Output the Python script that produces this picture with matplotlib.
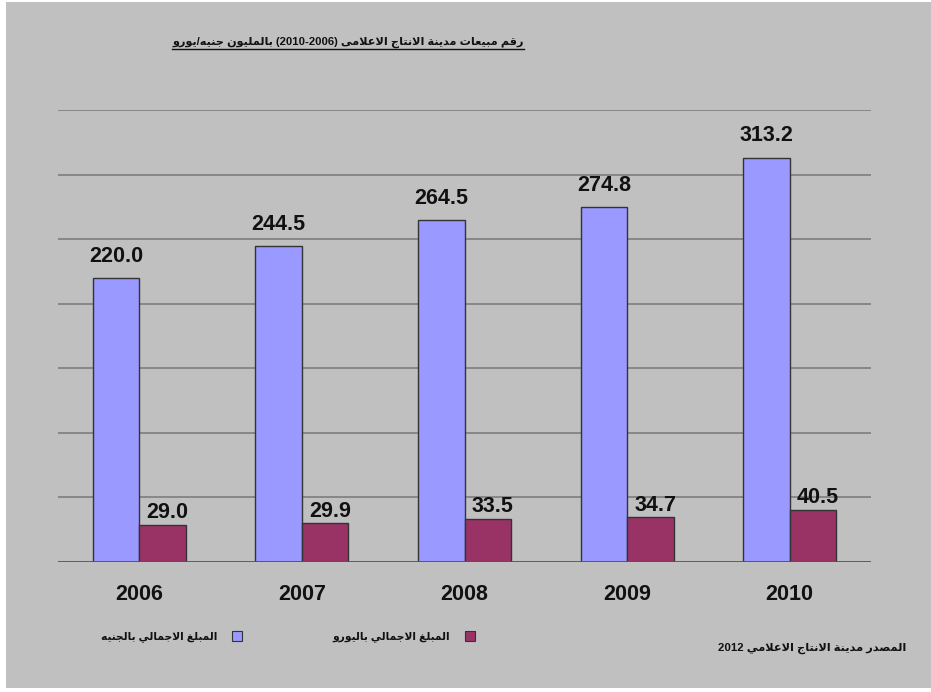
import re
import numpy as np
import matplotlib
matplotlib.use("Agg")
import matplotlib.pyplot as plt
from matplotlib.patches import Rectangle
from matplotlib.lines import Line2D

# chart data
years = ["2006", "2007", "2008", "2009", "2010"]
egp_values = [220.0, 244.5, 264.5, 274.8, 313.2]
eur_values = [29.0, 29.9, 33.5, 34.7, 40.5]

title_text = "رقم مبيعات مدينة الانتاج الاعلامى (2010-2006) بالمليون جنيه/يورو"
egp_label = "المبلغ الاجمالي بالجنيه"
eur_label = "المبلغ الاجمالي باليورو"
source_text = "المصدر مدينة الانتاج الاعلامي 2012"

BLUE = "#9999FF"
MAROON = "#993366"
BG = "#C0C0C0"

# Arabic shaping (presentation forms B): isolated, final, initial, medial
FORMS = {
    "ا": (0xFE8D, 0xFE8E), "ب": (0xFE8F, 0xFE90, 0xFE91, 0xFE92),
    "ة": (0xFE93, 0xFE94), "ت": (0xFE95, 0xFE96, 0xFE97, 0xFE98),
    "ج": (0xFE9D, 0xFE9E, 0xFE9F, 0xFEA0), "د": (0xFEA9, 0xFEAA),
    "ر": (0xFEAD, 0xFEAE), "ص": (0xFEB9, 0xFEBA, 0xFEBB, 0xFEBC),
    "ع": (0xFEC9, 0xFECA, 0xFECB, 0xFECC), "غ": (0xFECD, 0xFECE, 0xFECF, 0xFED0),
    "ق": (0xFED5, 0xFED6, 0xFED7, 0xFED8), "ل": (0xFEDD, 0xFEDE, 0xFEDF, 0xFEE0),
    "م": (0xFEE1, 0xFEE2, 0xFEE3, 0xFEE4), "ن": (0xFEE5, 0xFEE6, 0xFEE7, 0xFEE8),
    "ه": (0xFEE9, 0xFEEA, 0xFEEB, 0xFEEC), "و": (0xFEED, 0xFEEE),
    "ى": (0xFEEF, 0xFEF0), "ي": (0xFEF1, 0xFEF2, 0xFEF3, 0xFEF4),
}
MIRROR = {"(": ")", ")": "("}


def shape(s):
    out = []
    i = 0
    while i < len(s):
        c = s[i]
        if c not in FORMS:
            out.append(c)
            i += 1
            continue
        prev = s[i - 1] if i > 0 else ""
        prev_join = prev in FORMS and len(FORMS[prev]) == 4
        if c == "ل" and i + 1 < len(s) and s[i + 1] == "ا":
            out.append(chr(0xFEFC if prev_join else 0xFEFB))
            i += 2
            continue
        nxt = s[i + 1] if i + 1 < len(s) else ""
        next_join = nxt in FORMS and len(FORMS[c]) == 4
        f = FORMS[c]
        if prev_join and next_join:
            out.append(chr(f[3]))
        elif prev_join:
            out.append(chr(f[1]))
        elif next_join:
            out.append(chr(f[2]))
        else:
            out.append(chr(f[0]))
        i += 1
    return "".join(out)


def rtl(s):
    s = shape(s)
    parts = re.split(r"([0-9]+(?:[.\-][0-9]+)*)", s)
    vis = []
    for p in reversed(parts):
        if re.fullmatch(r"[0-9]+(?:[.\-][0-9]+)*", p):
            vis.append(p)
        else:
            vis.append("".join(MIRROR.get(ch, ch) for ch in reversed(p)))
    return "".join(vis)


FONT = ["Liberation Sans", "DejaVu Sans"]
plt.rcParams["font.family"] = FONT

fig = plt.figure(figsize=(9.31, 6.92), dpi=100)
fig.patch.set_facecolor("white")
fig.patches.append(Rectangle((6 / 931, 4 / 692), 1 - 6 / 931, 1 - 6 / 692,
                             transform=fig.transFigure, facecolor=BG,
                             edgecolor="none", zorder=-5))

ax = fig.add_axes([58 / 931, (692 - 562) / 692, 813 / 931, 452 / 692])
ax.set_facecolor("none")
x = np.arange(len(years))
w = 0.286
b1 = ax.bar(x - w / 2, egp_values, w, color=BLUE, edgecolor="#333333", linewidth=1, zorder=3)
b2 = ax.bar(x + w / 2, eur_values, w, color=MAROON, edgecolor="#333333", linewidth=1, zorder=3)

ax.set_xlim(-0.5, len(years) - 0.5)
ax.set_ylim(0, 350)
ax.set_yticks(np.arange(50, 351, 50))
ax.yaxis.grid(True, color="#878787", linewidth=1.4, zorder=1)
ax.axhline(0, color="#555555", linewidth=2, zorder=4)
ax.tick_params(axis="y", left=False, labelleft=False)
ax.tick_params(axis="x", length=0, pad=16)
ax.set_xticks(x)
ax.set_xticklabels(years, fontsize=15.5, fontweight="bold", color="#111111")
for sp in ax.spines.values():
    sp.set_visible(False)

for rect, v in zip(b1, egp_values):
    ax.annotate("%.1f" % v, (rect.get_x() + rect.get_width() / 2, v),
                xytext=(0, 8), textcoords="offset points", ha="center", va="bottom",
                fontsize=15.5, fontweight="bold", color="#111111")
for rect, v in zip(b2, eur_values):
    ax.annotate("%.1f" % v, (rect.get_x() + rect.get_width() / 2, v),
                xytext=(3.5, 1), textcoords="offset points", ha="center", va="bottom",
                fontsize=15.5, fontweight="bold", color="#111111")

# title with underline
t = fig.text(348 / 931, 1 - 42 / 692, rtl(title_text), ha="center", va="center",
             fontsize=8.1, fontweight="bold", color="#111111")
fig.canvas.draw()
bb = t.get_window_extent().transformed(fig.transFigure.inverted())
fig.add_artist(Line2D([bb.x0, bb.x1], [1 - 49 / 692] * 2, transform=fig.transFigure,
                      color="#111111", linewidth=1))

# legend, square to the right of the text
for label, color, xend in [(egp_label, BLUE, 217), (eur_label, MAROON, 450)]:
    fig.text(xend / 931, 1 - 637 / 692, rtl(label), ha="right", va="center",
             fontsize=7.7, fontweight="bold", color="#111111")
    fig.patches.append(Rectangle(((xend + 15) / 931, 1 - 641 / 692), 10 / 931, 10 / 692,
                                 transform=fig.transFigure, facecolor=color,
                                 edgecolor="#333333", linewidth=0.8))

fig.text(906 / 931, 1 - 648 / 692, rtl(source_text), ha="right", va="center",
         fontsize=8.2, fontweight="bold", color="#111111")

fig.savefig("out.png", dpi=100, facecolor=fig.get_facecolor())
